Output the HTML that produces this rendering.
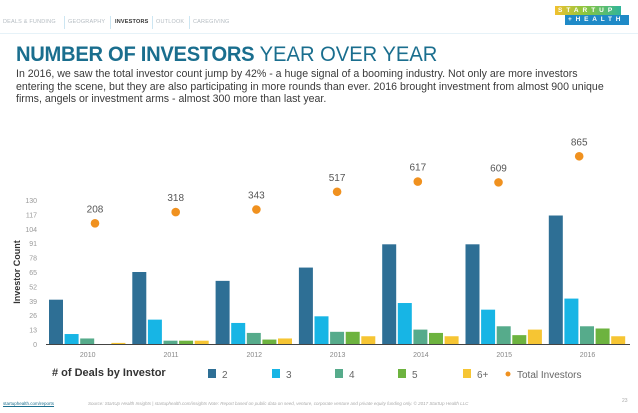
<!DOCTYPE html>
<html><head><meta charset="utf-8"><style>
body{margin:0;width:638px;height:413px;background:#fff;font-family:"Liberation Sans",sans-serif;overflow:hidden;position:relative}
.abs{position:absolute}
.nav{top:19px;font-size:5.5px;color:#b5bcc2;letter-spacing:0.2px}
.navsep{top:16px;width:1px;height:13px;background:#cde6f2}
</style></head><body>
<div class="abs nav" style="left:3px">DEALS &amp; FUNDING</div>
<div class="abs navsep" style="left:64px"></div>
<div class="abs nav" style="left:68px">GEOGRAPHY</div>
<div class="abs navsep" style="left:110px"></div>
<div class="abs nav" style="left:115px;color:#333;font-weight:bold">INVESTORS</div>
<div class="abs navsep" style="left:152px"></div>
<div class="abs nav" style="left:156px">OUTLOOK</div>
<div class="abs navsep" style="left:189px"></div>
<div class="abs nav" style="left:193px">CAREGIVING</div>
<div class="abs" style="left:0;top:33px;width:638px;height:1px;background:#e6f2f8"></div>

<div class="abs" style="left:555px;top:6px;width:66px;height:9px;background:linear-gradient(90deg,#f2c12e,#8cc63f 45%,#2fb59a);color:#fff;font-size:6.5px;font-weight:bold;letter-spacing:4px;line-height:9px;text-indent:3px;overflow:hidden;white-space:nowrap">STARTUP</div>
<div class="abs" style="left:565px;top:15px;width:64px;height:10px;background:#1f8ac7;color:#fff;font-size:6.5px;font-weight:bold;letter-spacing:3.8px;line-height:10px;text-indent:3px;overflow:hidden;white-space:nowrap">+HEALTH</div>

<div class="abs" style="left:16px;top:43px;font-size:21px;color:#1a6e8e;white-space:nowrap;transform:scaleX(0.96);transform-origin:left"><b style="letter-spacing:-0.3px">NUMBER OF INVESTORS</b> <span style="font-weight:normal">YEAR OVER YEAR</span></div>
<div class="abs" style="left:16px;top:68px;font-size:10.6px;line-height:12.6px;color:#3a3a3a;white-space:nowrap">In 2016, we saw the total investor count jump by 42% - a huge signal of a booming industry. Not only are more investors<br>entering the scene, but they are also participating in more rounds than ever. 2016 brought investment from almost 900 unique<br>firms, angels or investment arms - almost 300 more than last year.</div>

<svg class="abs" style="left:0;top:0" width="638" height="413" id="chart"></svg>

<div class="abs" style="left:52px;top:367px;font-size:11px;font-weight:bold;color:#333"># of Deals by Investor</div>
<div class="abs" style="left:3px;top:401px;font-size:4.5px;color:#1a6e8e;text-decoration:underline">startuphealth.com/reports</div>
<div class="abs" style="left:88px;top:401px;font-size:4.5px;color:#aaa;font-style:italic;white-space:nowrap">Source: StartUp Health Insights | startuphealth.com/insights Note: Report based on public data on seed, venture, corporate venture and private equity funding only. © 2017 StartUp Health LLC</div>
<div class="abs" style="left:622px;top:398px;font-size:5px;color:#aaa">23</div>

<script>
const years=["2010","2011","2012","2013","2014","2015","2016"];
const seriesNames=["2","3","4","5","6+"];
const s2=[40,65,57,69,90,90,116];
const s3=[9,22,19,25,37,31,41];
const s4=[5,3,10,11,13,16,16];
const s5=[0,3,4,11,10,8,14];
const s6=[1,3,5,7,7,13,7];
const totals=[208,318,343,517,617,609,865];
const yTicks=[0,13,26,39,52,65,78,91,104,117,130];
const colors=["#2e6f95","#17b5e5","#56ab8b","#6db33f","#f6c533"];
const NS="http://www.w3.org/2000/svg";
const svg=document.getElementById('chart');
function el(t,a){const e=document.createElementNS(NS,t);for(const k in a)e.setAttribute(k,a[k]);svg.appendChild(e);return e;}
const y=v=>344-v*144/130;
const yT=v=>244.5-v*0.102;
const gx=i=>49+i*83.3;
const all=[s2,s3,s4,s5,s6];
yTicks.forEach(t=>{const e=el('text',{x:37,y:y(t)+3,'text-anchor':'end','font-size':7,fill:'#999'});e.textContent=t;

});
const yl=el('text',{x:0,y:0,transform:'translate(20,272) rotate(-90)','text-anchor':'middle','font-size':9,'font-weight':'bold',fill:'#333'});yl.textContent='Investor Count';


years.forEach((yr,i)=>{
 all.forEach((s,k)=>{const v=s[i];const r=el('rect',{x:gx(i)+k*15.6,y:y(v),width:14,height:344-y(v),fill:colors[k]});
 
 });
 const t=el('text',{x:gx(i)+38.7,y:357,'text-anchor':'middle','font-size':7,fill:'#888'});t.textContent=yr;
 
 
 const cx=95+i*80.7;
 const c=el('circle',{cx:cx,cy:yT(totals[i]),r:4.3,fill:'#f0911f'});
 
 
 const l=el('text',{x:cx,y:yT(totals[i])-11,'text-anchor':'middle','font-size':10,fill:'#555'});l.textContent=totals[i];
 
 
});
const ax=el('line',{x1:46,x2:630,y1:344.5,y2:344.5,stroke:'#444','stroke-width':1});


const lx=[208,272,335,398,463];
seriesNames.forEach((n,k)=>{const r=el('rect',{x:lx[k],y:369,width:8,height:9,fill:colors[k]});


const t=el('text',{x:lx[k]+14,y:378,'font-size':10,fill:'#666'});t.textContent=n;

});
const ld=el('circle',{cx:508,cy:374,r:2.5,fill:'#f0911f'});


const lt=el('text',{x:517,y:378,'font-size':10,fill:'#666'});lt.textContent='Total Investors';


</script>
</body></html>
